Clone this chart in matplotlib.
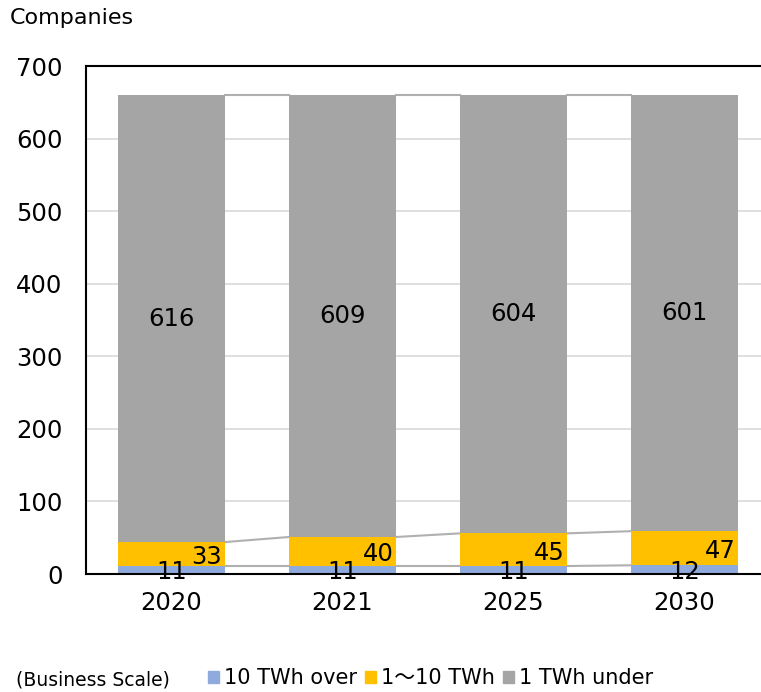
import numpy as np
import matplotlib.pyplot as plt
from matplotlib.patches import Patch

plt.rcParams['font.family'] = ['DejaVu Sans', 'Noto Sans CJK JP']

years = ['2020', '2021', '2025', '2030']
over_10 = [11, 11, 11, 12]
mid_1_10 = [33, 40, 45, 47]
under_1 = [616, 609, 604, 601]

series_names = ['10 TWh over', '1\u301c10 TWh', '1 TWh under']
colors = ['#8faadc', '#ffc000', '#a5a5a5']

fig = plt.figure(figsize=(7.61, 6.92), dpi=100)
ax = fig.add_axes([86 / 761, 118 / 692, 684 / 761, 508 / 692])

x = np.arange(len(years))
width = 0.625
layers = [np.array(over_10), np.array(mid_1_10), np.array(under_1)]
bottom = np.zeros(len(years))
tops = []
for vals, col in zip(layers, colors):
    ax.bar(x, vals, width, bottom=bottom, color=col, zorder=2)
    bottom = bottom + vals
    tops.append(bottom.copy())

# series lines between neighbouring bars
for t in tops:
    for i in range(len(years) - 1):
        ax.plot([x[i] + width / 2, x[i + 1] - width / 2], [t[i], t[i + 1]],
                color='#b0b0b0', lw=1.5, zorder=1)

# value labels
for i in range(len(years)):
    ax.text(x[i], over_10[i] / 2 - 3, str(over_10[i]), ha='center', va='center',
            fontsize=17.5, zorder=3)
    ax.text(x[i] + width / 2 - 0.015, over_10[i] + mid_1_10[i] / 2 - 4, str(mid_1_10[i]),
            ha='right', va='center', fontsize=17.5, zorder=3)
    ax.text(x[i], over_10[i] + mid_1_10[i] + under_1[i] / 2, str(under_1[i]),
            ha='center', va='center', fontsize=17.5, zorder=3)

ax.set_xlim(-0.5, len(years) - 0.5)
ax.set_ylim(0, 700)
ax.set_yticks(range(0, 701, 100))
ax.set_xticks(x)
ax.set_xticklabels(years)
ax.tick_params(axis='both', length=0, labelsize=17.5)
ax.tick_params(axis='y', pad=17)
ax.tick_params(axis='x', pad=12)
ax.grid(axis='y', color='#d9d9d9', lw=1.2, zorder=0)
ax.set_axisbelow(True)
for s in ax.spines.values():
    s.set_linewidth(1.5)
    s.set_color('black')

fig.text(10 / 761, 1 - 18 / 692, 'Companies', fontsize=16, ha='left', va='center')
fig.text(16 / 761, 1 - 680 / 692, '(Business Scale)', fontsize=13.5, ha='left', va='center')

handles = [Patch(color=c) for c in colors]
fig.legend(handles, series_names, loc='center left', ncol=3,
           bbox_to_anchor=(198 / 761, 1 - 678 / 692), frameon=False,
           fontsize=15, handlelength=0.5, handleheight=0.5,
           handletextpad=0.25, columnspacing=0.4, borderpad=0)

fig.savefig('out.png', dpi=100)
